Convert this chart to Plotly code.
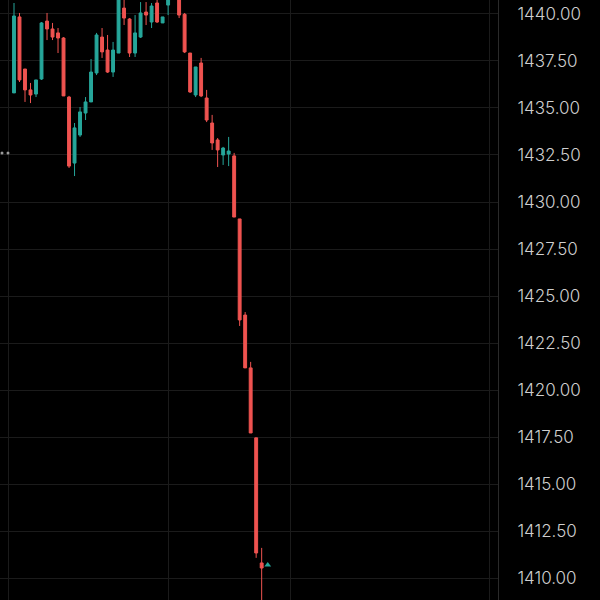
import plotly.graph_objects as go

# Candle index (bar number)
bars = list(range(46))
opens = [1435.80, 1439.84, 1437.07, 1435.96, 1435.74, 1436.54, 1439.62, 1439.20, 1438.99, 1438.72,
         1435.58, 1432.07, 1433.56, 1434.73, 1435.32, 1436.86, 1438.77, 1438.08, 1436.91, 1437.92,
         1440.31, 1439.73, 1437.92, 1438.77, 1440.10, 1439.57, 1440.58, 1439.52, 1440.47, 1441.10,
         1441.06, 1439.98, 1437.92, 1435.69, 1437.39, 1435.53, 1434.20, 1433.30, 1432.50, 1432.55,
         1432.45, 1429.10, 1423.99, 1421.18, 1417.46, 1410.81]
highs = [1440.58, 1440.05, 1437.07, 1436.33, 1436.49, 1439.57, 1440.05, 1439.52, 1439.25, 1438.77,
         1435.64, 1434.20, 1435.05, 1435.58, 1437.60, 1438.99, 1439.25, 1438.88, 1438.51, 1441.17,
         1440.90, 1439.78, 1439.94, 1440.63, 1440.63, 1440.58, 1440.85, 1439.84, 1441.28, 1441.59,
         1441.17, 1440.05, 1437.92, 1437.18, 1437.66, 1435.96, 1434.63, 1433.40, 1432.93, 1433.46,
         1432.61, 1429.10, 1424.15, 1421.50, 1417.46, 1411.61]
lows = [1435.80, 1436.38, 1435.32, 1435.26, 1435.58, 1436.49, 1438.61, 1438.61, 1437.92, 1435.64,
        1431.81, 1431.38, 1433.46, 1434.36, 1435.32, 1436.75, 1437.66, 1436.86, 1436.65, 1437.92,
        1439.41, 1437.71, 1437.71, 1438.72, 1439.41, 1439.25, 1439.52, 1439.52, 1439.94, 1441.00,
        1439.78, 1437.92, 1435.80, 1435.58, 1435.58, 1434.25, 1432.77, 1431.86, 1431.97, 1431.91,
        1429.20, 1423.41, 1421.18, 1417.72, 1411.08, 1408.31]
closes = [1439.89, 1436.49, 1435.96, 1435.69, 1436.49, 1439.52, 1439.20, 1438.77, 1438.72, 1435.64,
          1431.91, 1433.94, 1434.79, 1435.32, 1436.91, 1438.88, 1437.98, 1436.91, 1438.08, 1441.01,
          1439.78, 1437.92, 1438.99, 1440.05, 1439.94, 1440.42, 1439.57, 1439.84, 1440.90, 1441.48,
          1439.94, 1437.98, 1435.85, 1437.18, 1435.64, 1434.36, 1433.14, 1432.77, 1432.87, 1432.71,
          1429.20, 1423.73, 1421.18, 1417.72, 1411.34, 1410.54]

# Price scale ticks
price_ticks = [1410 + 2.5 * k for k in range(13)]
price_labels = [f"{v:.2f}" for v in price_ticks]
# Time grid lines (bar positions)
time_grid = [-1.09, 27.98, 50.15, 86.48]

# Marker after the last bar and the small dots at left edge
marker_x = [46.1]
marker_y = [1410.70]
dots_x = [-2.18, -1.09]
dots_y = [1432.61, 1432.61]

UP = "#26a69a"
DOWN = "#ef5350"

fig = go.Figure()
fig.add_trace(go.Candlestick(
    x=bars, open=opens, high=highs, low=lows, close=closes,
    increasing=dict(line=dict(color=UP, width=1), fillcolor=UP),
    decreasing=dict(line=dict(color=DOWN, width=1), fillcolor=DOWN),
    whiskerwidth=0, hoverinfo="skip", showlegend=False,
))
fig.add_trace(go.Scatter(
    x=marker_x, y=marker_y, mode="markers",
    marker=dict(symbol="triangle-up", size=6, color=UP),
    hoverinfo="skip", showlegend=False,
))
fig.add_trace(go.Scatter(
    x=dots_x, y=dots_y, mode="markers",
    marker=dict(symbol="circle", size=3, color="#9a9a9a"),
    hoverinfo="skip", showlegend=False,
))

fig.update_layout(
    width=600, height=600,
    paper_bgcolor="#000000", plot_bgcolor="#000000",
    margin=dict(l=0, r=102, t=0, b=0),
    boxgap=0.25,
    hovermode=False,
    font=dict(family="Inter, Roboto, sans-serif", color="#cfcfcf", size=17),
    xaxis=dict(
        range=[-2.544, 87.94], rangeslider=dict(visible=False),
        tickmode="array", tickvals=time_grid, showticklabels=False,
        showgrid=True, gridcolor="#1b1b1b", gridwidth=1, zeroline=False,
        showline=False, ticks="",
    ),
    yaxis=dict(
        range=[1408.84, 1440.74], side="right",
        tickmode="array", tickvals=price_ticks, ticktext=price_labels,
        showgrid=True, gridcolor="#1b1b1b", gridwidth=1, zeroline=False,
        showline=True, linecolor="#2a2a2a", linewidth=1, ticks="",
        ticklabelstandoff=15,
        tickfont=dict(size=17, color="#cfcfcf", weight=300),
    ),
)

fig.write_html(
    "out.html",
    config={"displayModeBar": False},
    post_script="document.body.style.margin='0';document.body.style.padding='0';document.body.style.background='#000';",
)
